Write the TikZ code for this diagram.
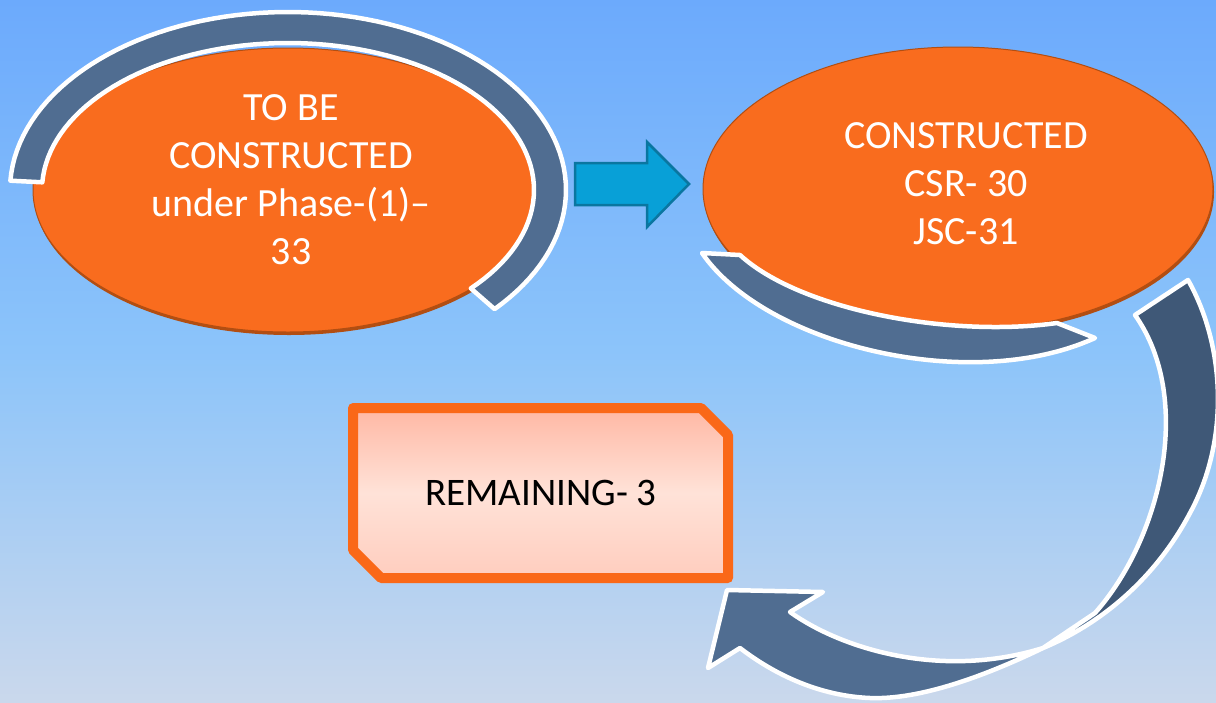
\documentclass[tikz,border=0pt]{standalone}
\usepackage{fontspec}
\setmainfont{Carlito}
\usetikzlibrary{shapes.geometric}
\definecolor{bgtop}{RGB}{108,170,252}
\definecolor{bgmid}{RGB}{140,196,250}
\definecolor{bgbot}{RGB}{202,216,236}
\definecolor{orangeF}{RGB}{249,108,30}
\definecolor{orangeS}{RGB}{178,78,18}
\definecolor{ringblue}{RGB}{80,109,145}
\definecolor{darkblue}{RGB}{63,88,119}
\definecolor{cyanF}{RGB}{8,160,215}
\definecolor{cyanD}{RGB}{10,118,160}
\definecolor{boxtop}{RGB}{255,184,164}
\definecolor{boxmid}{RGB}{255,226,216}
\definecolor{boxbot}{RGB}{255,205,190}
\definecolor{boxline}{RGB}{250,104,24}
\begin{document}
\begin{tikzpicture}[x=1pt,y=-1pt,
  oval/.style={ellipse, fill=orangeF, draw=orangeS, line width=1pt, minimum width=510pt, minimum height=284pt, inner sep=0pt},
  ovaltext/.style={align=center, text=white, inner sep=0pt, font=\fontsize{40}{48}\selectfont},
  band/.style={fill=ringblue, draw=white, line width=4.5pt, line join=round},
  whiteline/.style={draw=white, line width=4.5pt, line join=round},
  blockarrow/.style={fill=cyanF, draw=cyanD, line width=2.5pt, line join=miter},
  remainbox/.style={draw=boxline, line width=10pt, line join=round, top color=boxtop, bottom color=boxbot, middle color=boxmid}]
\useasboundingbox (0,0) rectangle (1216,702);
\clip (0,0) rectangle (1216,702);
\shade[top color=bgtop, bottom color=bgbot, middle color=bgmid] (0,0) rectangle (1216,702);

% left ellipse with ring
\fill[orangeS] (289,193) ellipse [x radius=255pt, y radius=142pt];
\node[oval] (left) at (288,190) {};
\path[band] plot[domain=183:402,samples=90] ({288+278*cos(\x)},{190+178*sin(\x)})
  -- plot[domain=402:183,samples=90] ({288+246*cos(\x)},{190+147*sin(\x)}) -- cycle;
\node[ovaltext] (lefttext) at (291,180) {TO BE\\CONSTRUCTED\\under Phase-(1)–\\33};

% block arrow
\path[blockarrow] (575,163) -- (647,163) -- (647,142) -- (689,184) -- (647,227) -- (647,205) -- (575,205) -- cycle;

% right ellipse with crescent
\fill[orangeS] (959,192) ellipse [x radius=255pt, y radius=142pt];
\node[oval] (right) at (958,189) {};
\path[band] (702,253) .. controls (765,345) and (970,395) .. (1095,338)
  -- (1057,323) .. controls (950,338) and (800,310) .. (740,255) -- cycle;
\node[ovaltext] (righttext) at (966,184) {CONSTRUCTED\\CSR- 30\\JSC-31};

% big curved arrow
\def\bigarrow{(1188,280) .. controls (1225,345) and (1230,440) .. (1190,513)
  .. controls (1160,570) and (1110,620) .. (1043,648)
  .. controls (985,676) and (920,700) .. (870,698)
  .. controls (820,696) and (775,675) .. (740,648)
  -- (708,668) -- (727,590) -- (823,592) -- (790,612)
  .. controls (840,648) and (940,680) .. (1043,648)
  -- (1095,613)
  .. controls (1160,540) and (1195,400) .. (1135,315) -- cycle}
\fill[ringblue] \bigarrow;
\begin{scope}
  \clip \bigarrow;
  \fill[darkblue] (1135,315) .. controls (1195,400) and (1160,540) .. (1095,613)
    -- (1100,640) -- (1260,640) -- (1260,250) -- (1180,250) -- cycle;
\end{scope}
\path[whiteline] \bigarrow;

% remaining box
\path[remainbox] (353,408) -- (701,408) -- (728,435) -- (728,578) -- (381,578) -- (353,550) -- cycle;
\node[font=\fontsize{39}{46}\selectfont, text=black, inner sep=0pt] (remain) at (541,493) {REMAINING- 3};
\end{tikzpicture}
\end{document}
